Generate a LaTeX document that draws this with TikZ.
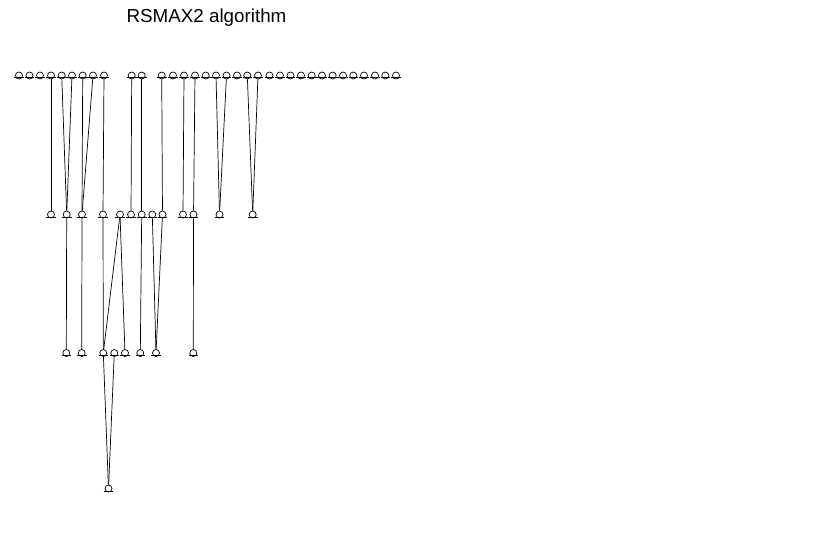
\documentclass[tikz,border=0pt]{standalone}
\usepackage{fontspec}
\setmainfont{Liberation Sans}
\begin{document}
\begin{tikzpicture}[
  x=1pt, y=-1pt,
  var/.style={draw, circle, minimum size=7pt, inner sep=0pt, line width=0.7pt,
    append after command={([xshift=-4.8pt, yshift=-2.3pt]\tikzlastnode.center)
      edge[line width=0.6pt] ([xshift=4.8pt, yshift=-2.3pt]\tikzlastnode.center)}},
  arc/.style={line width=0.7pt},
  title/.style={font=\fontsize{18.8}{20}\selectfont}
]
\useasboundingbox (0,0) rectangle (832,540);
\node[title] (ttl) at (206.5,18) {RSMAX2 algorithm};
% top rank
\node[var] (a1) at (19,75.5) {};
\node[var] (a2) at (29.5,75.5) {};
\node[var] (a3) at (40,75.5) {};
\node[var] (a4) at (51,75.5) {};
\node[var] (a5) at (61.7,75.5) {};
\node[var] (a6) at (72,75.5) {};
\node[var] (a7) at (82.7,75.5) {};
\node[var] (a8) at (93,75.5) {};
\node[var] (a9) at (104,75.5) {};
\node[var] (a10) at (131.7,75.5) {};
\node[var] (a11) at (141.7,75.5) {};
\node[var] (a12) at (161.7,75.5) {};
\node[var] (a13) at (173,75.5) {};
\node[var] (a14) at (184,75.5) {};
\node[var] (a15) at (195,75.5) {};
\node[var] (a16) at (205.7,75.5) {};
\node[var] (a17) at (216,75.5) {};
\node[var] (a18) at (226.5,75.5) {};
\node[var] (a19) at (237,75.5) {};
\node[var] (a20) at (247.3,75.5) {};
\node[var] (a21) at (258,75.5) {};
\node[var] (a22) at (269.5,75.5) {};
\node[var] (a23) at (280,75.5) {};
\node[var] (a24) at (290.5,75.5) {};
\node[var] (a25) at (301,75.5) {};
\node[var] (a26) at (311.7,75.5) {};
\node[var] (a27) at (322,75.5) {};
\node[var] (a28) at (332.7,75.5) {};
\node[var] (a29) at (343,75.5) {};
\node[var] (a30) at (353.3,75.5) {};
\node[var] (a31) at (364,75.5) {};
\node[var] (a32) at (375,75.5) {};
\node[var] (a33) at (385.3,75.5) {};
\node[var] (a34) at (396,75.5) {};
% second rank
\node[var] (b1) at (51,214.5) {};
\node[var] (b2) at (66.7,214.5) {};
\node[var] (b3) at (82,214.5) {};
\node[var] (b4) at (103,214.5) {};
\node[var] (b5) at (120,214.5) {};
\node[var] (b6) at (131,214.5) {};
\node[var] (b7) at (141.7,214.5) {};
\node[var] (b8) at (152.3,214.5) {};
\node[var] (b9) at (162.5,214.5) {};
\node[var] (b10) at (183,214.5) {};
\node[var] (b11) at (193.5,214.5) {};
\node[var] (b12) at (219.5,214.5) {};
\node[var] (b13) at (252.7,214.5) {};
% third rank
\node[var] (c1) at (66.3,353) {};
\node[var] (c2) at (81.7,353) {};
\node[var] (c3) at (103.3,353) {};
\node[var] (c4) at (114.3,353) {};
\node[var] (c5) at (125,353) {};
\node[var] (c6) at (140.3,353) {};
\node[var] (c7) at (156,353) {};
\node[var] (c8) at (193.3,353) {};
% fourth rank
\node[var] (d1) at (108.5,488.5) {};
% arcs
\draw[arc] (a4) -- (b1);
\draw[arc] (a5) -- (b2);
\draw[arc] (a6) -- (b2);
\draw[arc] (a7) -- (b3);
\draw[arc] (a8) -- (b3);
\draw[arc] (a9) -- (b4);
\draw[arc] (a10) -- (b6);
\draw[arc] (a11) -- (b7);
\draw[arc] (a12) -- (b9);
\draw[arc] (a14) -- (b10);
\draw[arc] (a15) -- (b11);
\draw[arc] (a17) -- (b12);
\draw[arc] (a18) -- (b12);
\draw[arc] (a20) -- (b13);
\draw[arc] (a21) -- (b13);
\draw[arc] (b2) -- (c1);
\draw[arc] (b3) -- (c2);
\draw[arc] (b4) -- (c3);
\draw[arc] (b5) -- (c3);
\draw[arc] (b5) -- (c5);
\draw[arc] (b7) -- (c6);
\draw[arc] (b8) -- (c7);
\draw[arc] (b9) -- (c7);
\draw[arc] (b11) -- (c8);
\draw[arc] (c3) -- (d1);
\draw[arc] (c4) -- (d1);
\end{tikzpicture}
\end{document}
